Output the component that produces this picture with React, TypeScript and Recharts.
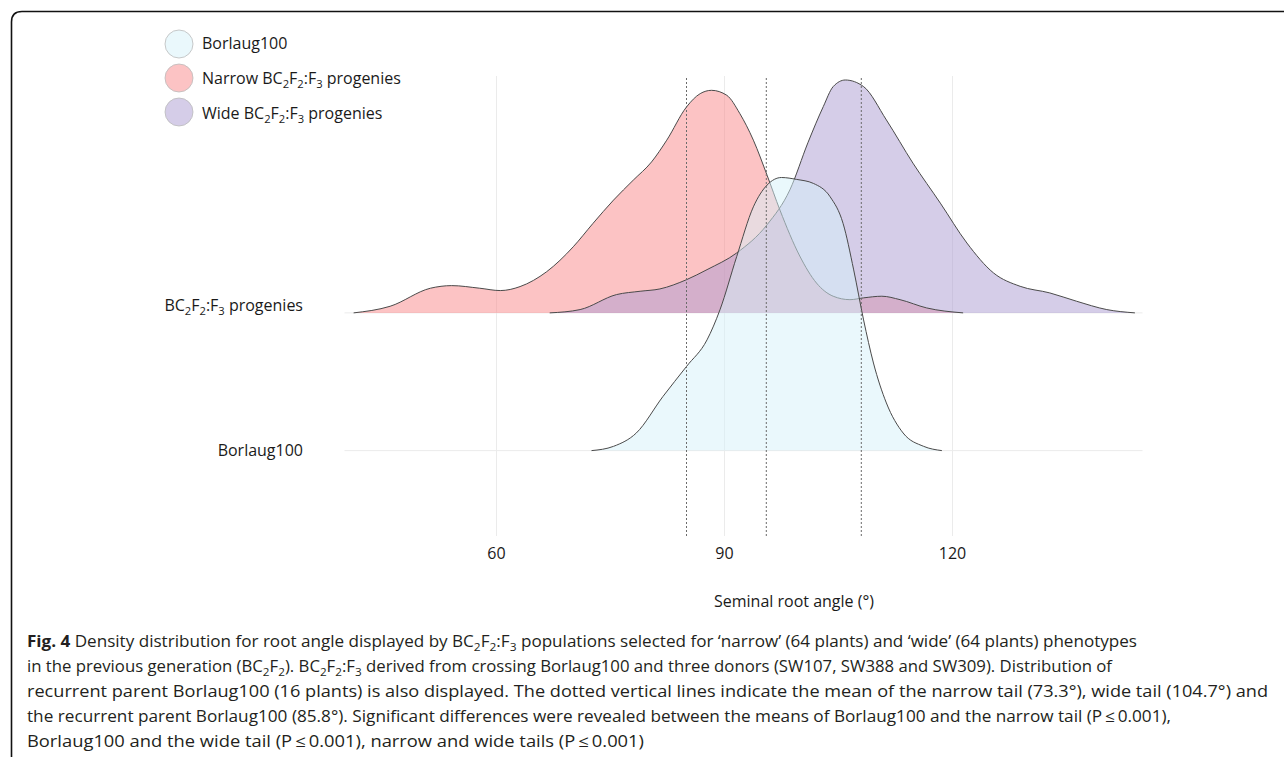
import React from 'react';
import { ComposedChart, Area, XAxis, YAxis, CartesianGrid, ReferenceLine, Label } from 'recharts';

// ---------- data ----------
const xTicks = [60, 90, 120];
const rowTicks = [1, 2];
const rowLabels = ['Borlaug100', 'BC2F2:F3 progenies'];
const meanLines = [85, 95.5, 108];

const narrowAngle = [41.2, 46.0, 51.3, 54.1, 57.8, 60.5, 63.1, 66.6, 70.1, 72.7, 75.4, 78.0, 80.4, 82.4, 85.0, 86.8, 88.3, 90.3, 92.0, 93.8, 95.6, 97.3, 99.9, 102.1, 104.3, 106.5, 108.3, 110.7, 113.1, 116.6, 121.4];
const narrowDensity = [0, 0.048, 0.179, 0.198, 0.179, 0.162, 0.191, 0.299, 0.48, 0.65, 0.819, 0.964, 1.096, 1.254, 1.495, 1.592, 1.616, 1.58, 1.449, 1.254, 1.0, 0.746, 0.413, 0.217, 0.121, 0.096, 0.109, 0.121, 0.096, 0.036, 0];

const wideAngle = [67.0, 71.0, 75.8, 78.9, 81.5, 85.0, 87.7, 91.6, 95.6, 98.6, 101.0, 103.0, 104.3, 105.9, 108.3, 111.3, 114.8, 118.4, 121.9, 125.4, 128.9, 132.8, 136.3, 140.3, 144.0];
const wideDensity = [0, 0.024, 0.133, 0.157, 0.174, 0.241, 0.314, 0.435, 0.64, 0.893, 1.239, 1.498, 1.643, 1.691, 1.643, 1.401, 1.087, 0.797, 0.507, 0.29, 0.193, 0.145, 0.085, 0.024, 0];

const borlaugAngle = [72.5, 75.4, 78.4, 81.9, 85.0, 87.7, 89.4, 91.6, 93.8, 95.6, 97.5, 99.5, 101.7, 103.9, 105.6, 107.0, 108.3, 109.6, 111.3, 113.5, 116.2, 118.6];
const borlaugDensity = [0, 0.031, 0.128, 0.393, 0.611, 0.804, 1.022, 1.408, 1.77, 1.928, 1.983, 1.969, 1.94, 1.843, 1.65, 1.312, 0.949, 0.636, 0.346, 0.128, 0.031, 0];

const legendLabels = ['Borlaug100', 'Narrow BC2F2:F3 progenies', 'Wide BC2F2:F3 progenies'];

// ---------- derived ----------
const makeRidge = (angles: number[], dens: number[], row: number) =>
  angles.map((a, i) => ({ x: a, y: row + dens[i] }));

const narrowData = makeRidge(narrowAngle, narrowDensity, 2);
const wideData = makeRidge(wideAngle, wideDensity, 2);
const borlaugData = makeRidge(borlaugAngle, borlaugDensity, 1);

const FONT = '"Open Sans", sans-serif';
const TEXT = '#1a1a1a';
const LINE = '#4a4a4a';

const NARROW_FILL = '#f98789';
const WIDE_FILL = '#ab9bd1';
const BORLAUG_FILL = '#d5f1f9';

// renders text with BC2F2:F3-style subscripts
const withSubs = (s: string, size: number, key: string) => {
  const parts: React.ReactNode[] = [];
  const re = /BC2F2:F3|BC2F2/g;
  let last = 0;
  let m: RegExpExecArray | null;
  let k = 0;
  const sub = (d: string) => {
    parts.push(<tspan key={key + k++} dy={size * 0.28} fontSize={size * 0.7}>{d}</tspan>);
  };
  const norm = (t: string, first: boolean) => {
    parts.push(<tspan key={key + k++} dy={first ? 0 : -size * 0.28}>{t}</tspan>);
  };
  let pendingUp = false;
  while ((m = re.exec(s)) !== null) {
    const before = s.slice(last, m.index);
    if (before) { norm(before, !pendingUp); pendingUp = false; }
    const full = m[0] === 'BC2F2:F3';
    norm('BC', !pendingUp); pendingUp = false;
    sub('2');
    norm('F', false);
    sub('2');
    if (full) {
      norm(':F', false);
      sub('3');
    }
    pendingUp = true;
    last = m.index + m[0].length;
  }
  const rest = s.slice(last);
  if (rest || pendingUp) norm(rest || '\u200b', !pendingUp);
  return parts;
};

const YTick = (props: any) => {
  const { x, y, payload } = props;
  const idx = rowTicks.indexOf(payload.value);
  const label = rowLabels[idx];
  const dy = idx === 1 ? -2 : 5;
  return (
    <text x={x} y={y + dy} textAnchor="end" fontFamily={FONT} fontSize={16} fill={TEXT}>
      {withSubs(label, 16, 'y' + idx)}
    </text>
  );
};

const XTitle = (props: any) => {
  const vb = props.viewBox || { x: 0, y: 0, width: 0, height: 0 };
  return (
    <text x={vb.x + vb.width / 2 + 50.5} y={vb.y + 71} textAnchor="middle" fontFamily={FONT} fontSize={16} fill={TEXT}>
      Seminal root angle (°)
    </text>
  );
};

const scaleOf = (axis: any) => (v: number) => {
  if (!axis) return NaN;
  const s = axis.scale;
  if (typeof s === 'function') return s(v);
  if (s && typeof s.map === 'function') return s.map(v);
  return NaN;
};

const captionLines: { text: string; width: number; bold?: string }[] = [
  { bold: 'Fig. 4', text: '  Density distribution for root angle displayed by BC2F2:F3 populations selected for \u2018narrow\u2019 (64 plants) and \u2018wide\u2019 (64 plants) phenotypes', width: 1110 },
  { text: 'in the previous generation (BC2F2). BC2F2:F3 derived from crossing Borlaug100 and three donors (SW107, SW388 and SW309). Distribution of', width: 1085 },
  { text: 'recurrent parent Borlaug100 (16 plants) is also displayed. The dotted vertical lines indicate the mean of the narrow tail (73.3°), wide tail (104.7°) and', width: 1241 },
  { text: 'the recurrent parent Borlaug100 (85.8°). Significant differences were revealed between the means of Borlaug100 and the narrow tail (P\u2009\u2264\u20090.001),', width: 1144 },
  { text: 'Borlaug100 and the wide tail (P\u2009\u2264\u20090.001), narrow and wide tails (P\u2009\u2264\u20090.001)', width: 617 },
];

const legendItems = [
  { fill: BORLAUG_FILL, cy: 44, ty: 49 },
  { fill: NARROW_FILL, cy: 78, ty: 84 },
  { fill: WIDE_FILL, cy: 112, ty: 119 },
];

export default function App() {
  return (
    <div style={{ position: 'absolute', left: 0, top: 0, width: 1284, height: 757, background: '#fff', overflow: 'hidden' }}>
      <div style={{ position: 'absolute', left: 0, top: 0 }}>
        <ComposedChart width={1284} height={757} margin={{ top: 76, right: 141.5, bottom: 191, left: 0 }}>
          <CartesianGrid
            stroke="#ebebeb"
            strokeWidth={1}
            horizontalCoordinatesGenerator={(p: any) => rowTicks.map(scaleOf(p.yAxis)).filter((v) => Number.isFinite(v))}
            verticalCoordinatesGenerator={(p: any) => xTicks.map(scaleOf(p.xAxis)).filter((v) => Number.isFinite(v))}
          />
          <XAxis
            type="number"
            dataKey="x"
            domain={[40, 145]}
            ticks={xTicks}
            tickLine={false}
            axisLine={false}
            tickSize={0}
            tickMargin={12}
            height={30}
            tick={{ fontFamily: FONT, fontSize: 16, fill: TEXT }}
            allowDataOverflow
          >
            <Label content={<XTitle />} />
          </XAxis>
          <YAxis
            type="number"
            domain={[0.38, 3.72]}
            ticks={rowTicks}
            width={344.5}
            tickLine={false}
            axisLine={false}
            tickSize={0}
            tickMargin={41.5}
            tick={<YTick />}
            allowDataOverflow
          />
          <Area data={narrowData} dataKey="y" type="monotone" baseValue={2} fill={NARROW_FILL} fillOpacity={0.5} stroke="none" isAnimationActive={false} dot={false} activeDot={false} />
          <Area data={wideData} dataKey="y" type="monotone" baseValue={2} fill={WIDE_FILL} fillOpacity={0.5} stroke="none" isAnimationActive={false} dot={false} activeDot={false} />
          <Area data={narrowData} dataKey="y" type="monotone" baseValue={2} fill="none" stroke={LINE} strokeWidth={1} isAnimationActive={false} dot={false} activeDot={false} />
          <Area data={wideData} dataKey="y" type="monotone" baseValue={2} fill="none" stroke={LINE} strokeWidth={1} isAnimationActive={false} dot={false} activeDot={false} />
          <Area data={borlaugData} dataKey="y" type="monotone" baseValue={1} fill={BORLAUG_FILL} fillOpacity={0.5} stroke="none" isAnimationActive={false} dot={false} activeDot={false} />
          <Area data={borlaugData} dataKey="y" type="monotone" baseValue={1} fill="none" stroke={LINE} strokeWidth={1} isAnimationActive={false} dot={false} activeDot={false} />
          {meanLines.map((m) => (
            <ReferenceLine key={m} x={m} stroke="#6b6b6b" strokeWidth={1} strokeDasharray="2 2" />
          ))}
        </ComposedChart>
      </div>
      <svg width={1284} height={757} style={{ position: 'absolute', left: 0, top: 0, pointerEvents: 'none' }}>
        <path d="M 11.5 757 L 11.5 22 Q 11.5 11.5 22 11.5 L 1284 11.5" fill="none" stroke="#111" strokeWidth={1.6} />
        {legendItems.map((it, i) => (
          <g key={i}>
            <circle cx={179} cy={it.cy} r={14} fill={it.fill} fillOpacity={0.5} stroke="#bbb" strokeOpacity={0.8} strokeWidth={1} />
            <text x={202} y={it.ty} fontFamily={FONT} fontSize={16} fill={TEXT}>
              {withSubs(legendLabels[i], 16, 'l' + i)}
            </text>
          </g>
        ))}
        {captionLines.map((ln, i) => (
          <text
            key={i}
            x={27}
            y={647 + i * 25}
            fontFamily={FONT}
            fontSize={16}
            fill="#231f20"
            textLength={ln.width}
            lengthAdjust="spacingAndGlyphs"
          >
            {ln.bold ? <tspan fontWeight={700}>{ln.bold}</tspan> : null}
            {withSubs(ln.text, 16, 'c' + i)}
          </text>
        ))}
      </svg>
    </div>
  );
}
